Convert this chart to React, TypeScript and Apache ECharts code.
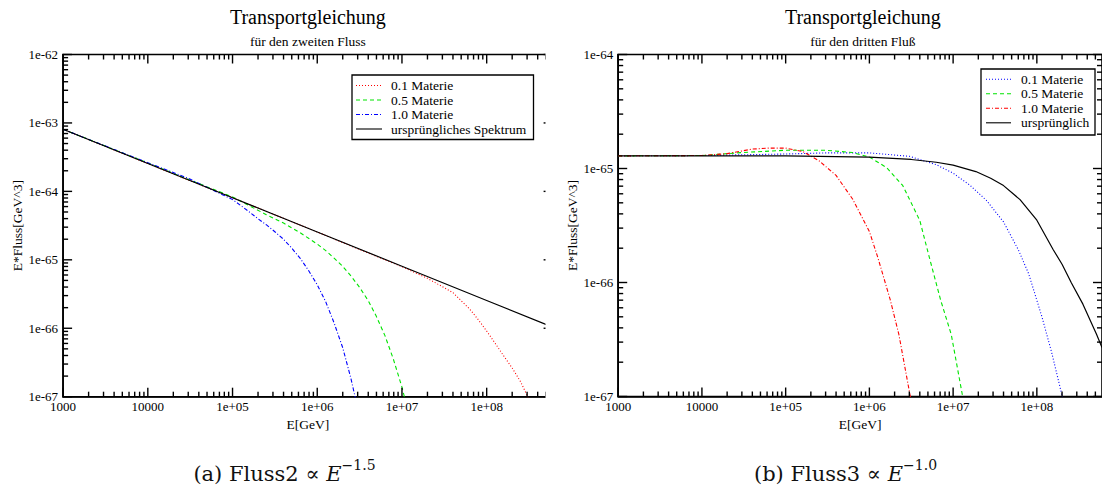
import React, { useEffect, useRef } from "react";
import * as echarts from "echarts";

// ---------- data (E in GeV, values E*Fluss in GeV^3) ----------
const xRange: [number, number] = [1e3, 6e8];
const yRangeA: [number, number] = [1e-67, 1e-62];
const yRangeB: [number, number] = [1e-67, 1e-64];

const xTickValues = [1e3, 1e4, 1e5, 1e6, 1e7, 1e8];
const xTickLabels = ["1000", "10000", "1e+05", "1e+06", "1e+07", "1e+08"];
const yTickValuesA = [1e-67, 1e-66, 1e-65, 1e-64, 1e-63, 1e-62];
const yTickLabelsA = ["1e-67", "1e-66", "1e-65", "1e-64", "1e-63", "1e-62"];
const yTickValuesB = [1e-67, 1e-66, 1e-65, 1e-64];
const yTickLabelsB = ["1e-67", "1e-66", "1e-65", "1e-64"];

const titleA = "Transportgleichung";
const subtitleA = "für den zweiten Fluss";
const titleB = "Transportgleichung";
const subtitleB = "für den dritten Fluß";
const legendNamesA = ["0.1 Materie", "0.5 Materie", "1.0 Materie", "ursprüngliches Spektrum"];
const legendNamesB = ["0.1 Materie", "0.5 Materie", "1.0 Materie", "ursprünglich"];

// Panel (a): Fluss2
const a_m01: [number, number][] = [
  [1e3, 8.07e-64], [1e4, 2.55e-64], [1e5, 8.07e-65], [1e6, 2.55e-65], [3e6, 1.45e-65],
  [1e7, 7.94e-66], [2e7, 5.37e-66], [4e7, 3.31e-66], [6.3e7, 1.91e-66], [7.9e7, 1.35e-66],
  [1e8, 9.1e-67], [1.26e8, 6.03e-67], [1.58e8, 3.98e-67], [2e8, 2.63e-67], [2.51e8, 1.66e-67],
  [3.05e8, 1.0e-67], [3.3e8, 7.9e-68],
];
const a_m05: [number, number][] = [
  [1e3, 8.07e-64], [1e4, 2.6e-64], [3e4, 1.5e-64], [1e5, 8.3e-65], [2.5e5, 4.57e-65],
  [4e5, 3.44e-65], [6.3e5, 2.48e-65], [1e6, 1.7e-65], [1.26e6, 1.36e-65], [1.58e6, 1.06e-65],
  [2e6, 8.0e-66], [2.5e6, 5.8e-66], [3.16e6, 3.96e-66], [4e6, 2.53e-66], [5e6, 1.48e-66],
  [6.3e6, 7.8e-67], [7.9e6, 3.57e-67], [1e7, 1.38e-67], [1.12e7, 7.9e-68],
];
const a_m10: [number, number][] = [
  [1e3, 8.07e-64], [1e4, 2.62e-64], [3e4, 1.55e-64], [1e5, 7.6e-65], [1.26e5, 6.17e-65],
  [1.58e5, 5.0e-65], [2e5, 3.98e-65], [2.5e5, 3.26e-65], [3.16e5, 2.57e-65], [4e5, 2.0e-65],
  [5e5, 1.48e-65], [6.3e5, 1.05e-65], [7.9e5, 6.98e-66], [1e6, 4.32e-66], [1.26e6, 2.43e-66],
  [1.58e6, 1.2e-66], [2e6, 5.18e-67], [2.5e6, 1.84e-67], [3.16e6, 5.1e-68],
];
const a_orig: [number, number][] = [
  [1e3, 8.07e-64], [1e4, 2.55e-64], [1e5, 8.07e-65], [1e6, 2.55e-65], [1e7, 8.07e-66],
  [1e8, 2.55e-66], [6e8, 1.04e-66],
];

// Panel (b): Fluss3
const b_m01: [number, number][] = [
  [1e3, 1.29e-65], [1e4, 1.3e-65], [1e5, 1.34e-65], [3e5, 1.37e-65], [1e6, 1.37e-65],
  [3e6, 1.28e-65], [6.3e6, 1.08e-65], [1e7, 9.1e-66], [1.6e7, 7.1e-66], [2.5e7, 5.25e-66],
  [4e7, 3.4e-66], [6e7, 1.94e-66], [8e7, 1.19e-66], [1.15e8, 5.0e-67], [1.5e8, 2.45e-67],
  [2e8, 1.02e-67], [2.15e8, 8.3e-68],
];
const b_m05: [number, number][] = [
  [1e3, 1.29e-65], [1e4, 1.3e-65], [3e4, 1.38e-65], [1e5, 1.445e-65], [3e5, 1.445e-65],
  [6.3e5, 1.38e-65], [1e6, 1.26e-65], [1.6e6, 1.02e-65], [2.5e6, 7.1e-66], [4e6, 3.5e-66],
  [5.2e6, 1.66e-66], [7.1e6, 7.0e-67], [9.5e6, 3.5e-67], [1.3e7, 1.0e-67], [1.38e7, 7.9e-68],
];
const b_m10: [number, number][] = [
  [1e3, 1.29e-65], [1e4, 1.3e-65], [2e4, 1.35e-65], [4e4, 1.48e-65], [6.3e4, 1.51e-65],
  [1e5, 1.51e-65], [1.6e5, 1.41e-65], [2.5e5, 1.17e-65], [4e5, 8.7e-66], [6.3e5, 5.4e-66],
  [1e6, 2.8e-66], [1.26e6, 1.66e-66], [1.77e6, 7.1e-67], [2.25e6, 3.5e-67], [3.08e6, 1.0e-67],
  [3.3e6, 7.9e-68],
];
const b_orig: [number, number][] = [
  [1e3, 1.29e-65], [1e4, 1.29e-65], [1e5, 1.29e-65], [1e6, 1.256e-65], [3.16e6, 1.2e-65],
  [6.3e6, 1.135e-65], [1e7, 1.07e-65], [1.87e7, 9.4e-66], [2.81e7, 8.22e-66], [4e7, 7.08e-66],
  [6.3e7, 5.33e-66], [1e8, 3.52e-66], [1.57e8, 1.94e-66], [2e8, 1.445e-66], [2.59e8, 9.9e-67],
  [3.55e8, 6.46e-67], [5.16e8, 3.52e-67], [6e8, 2.69e-67],
];

// ---------- styling ----------
const FONT = "Liberation Serif";
const CAPTION_FONT = "DejaVu Serif";
const BLACK = "#000000";
const RED = "#ff0000";
const GREEN = "#00e400";
const BLUE = "#0000ff";
const DOT = [1, 2];
const DASH = [4, 3];
const DASHDOT = [4, 2, 1, 2];
const MAJOR_LEN = 9;
const MINOR_LEN = 5;
const FRAME_W = 1.6;
const TICK_W = 1.4;
const TICK_COLOR = BLACK;

const L = Math.log10;

function minorTicks(lo: number, hi: number): number[] {
  const out: number[] = [];
  for (let n = Math.floor(lo) - 1; n <= Math.ceil(hi); n++) {
    for (let k = 2; k <= 9; k++) {
      const v = n + Math.log10(k);
      if (v > lo + 1e-9 && v < hi - 1e-9) out.push(v);
    }
  }
  return out;
}

function labelFor(v: number, values: number[], labels: string[]) {
  const i = values.findIndex((m) => Math.abs(L(m) - v) < 1e-6);
  return i >= 0 ? labels[i] : "";
}

function mainAxis(dim: "x" | "y", gridIndex: number, range: [number, number], majors: number[], labels: string[], name: string) {
  const majorLog = majors.map(L);
  return {
    type: "value",
    gridIndex,
    min: L(range[0]),
    max: L(range[1]),
    position: dim === "x" ? "bottom" : "left",
    splitLine: { show: false },
    silent: true,
    name,
    nameLocation: "middle",
    nameGap: dim === "x" ? 18.5 : 39,
    nameTextStyle: { fontFamily: FONT, fontSize: 13.5, color: BLACK },
    axisLine: { show: true, onZero: false, lineStyle: { color: BLACK, width: FRAME_W } },
    axisTick: { show: false },
    axisLabel: {
      show: true,
      customValues: majorLog,
      margin: dim === "x" ? 3 : 5,
      formatter: (v: number) => labelFor(v, majors, labels),
      fontFamily: FONT,
      fontSize: 13,
      color: BLACK,
    },
  };
}

// tick positions in data space: [x, y, dxPx, dyPx]
function tickItems(xr: [number, number], yr: [number, number], xMajors: number[], yMajors: number[]) {
  const xl = L(xr[0]), xh = L(xr[1]), yl = L(yr[0]), yh = L(yr[1]);
  const items: number[][] = [];
  const xs = [...xMajors.map((v) => [L(v), MAJOR_LEN]), ...minorTicks(xl, xh).map((v) => [v, MINOR_LEN])];
  const ys = [...yMajors.map((v) => [L(v), MAJOR_LEN]), ...minorTicks(yl, yh).map((v) => [v, MINOR_LEN])];
  xs.forEach(([v, len]) => {
    items.push([v, yl, 0, -len]);
    items.push([v, yh, 0, len]);
  });
  ys.forEach(([v, len]) => {
    items.push([xl, v, len, 0]);
    items.push([xh, v, -len, 0]);
  });
  return items;
}

function series(data: [number, number][], axisIndex: number, color: string, type: any, width = 1.1, z = 2) {
  return {
    type: "line",
    xAxisIndex: axisIndex,
    yAxisIndex: axisIndex,
    data: data.map(([e, f]) => [L(e), L(f)]),
    symbol: "none",
    showSymbol: false,
    clip: true,
    silent: true,
    z,
    lineStyle: { color, width, type },
  };
}

function legendGraphics(
  box: { x: number; y: number; w: number; h: number },
  lineX: [number, number],
  textX: number,
  rowsY: number[],
  names: string[],
  styles: { color: string; dash: number[] | null }[]
) {
  const els: any[] = [
    {
      type: "rect",
      z: 60,
      shape: { x: box.x, y: box.y, width: box.w, height: box.h },
      style: { fill: "#ffffff", stroke: BLACK, lineWidth: 1.3 },
    },
  ];
  names.forEach((n, i) => {
    els.push({
      type: "line",
      z: 61,
      shape: { x1: lineX[0], y1: rowsY[i], x2: lineX[1], y2: rowsY[i] },
      style: { stroke: styles[i].color, lineWidth: 1.1, lineDash: styles[i].dash || undefined },
    });
    els.push({
      type: "text",
      z: 61,
      x: textX,
      y: rowsY[i],
      style: { text: n, fontFamily: FONT, fontSize: 13.5, fill: BLACK, align: "left", verticalAlign: "middle" },
    });
  });
  return els;
}

function textEl(text: string, x: number, y: number, size: number) {
  return {
    type: "text",
    z: 50,
    x,
    y,
    style: { text, fontFamily: FONT, fontSize: size, fill: BLACK, align: "center", verticalAlign: "middle" },
  };
}

function captionEl(prefix: string, exp: string, x: number, y: number) {
  return {
    type: "text",
    z: 50,
    x,
    y,
    style: {
      text: `{n|${prefix}}{i|E}{s|${exp}}`,
      align: "center",
      verticalAlign: "middle",
      rich: {
        n: { fontFamily: CAPTION_FONT, fontSize: 21, lineHeight: 26, verticalAlign: "bottom", fill: "#111" },
        i: { fontFamily: CAPTION_FONT, fontSize: 21, fontStyle: "italic", lineHeight: 26, verticalAlign: "bottom", fill: "#111" },
        s: { fontFamily: CAPTION_FONT, fontSize: 14, lineHeight: 16, verticalAlign: "top", fill: "#111" },
      },
    },
  };
}

export default function App() {
  const ref = useRef<HTMLDivElement>(null);
  useEffect(() => {
    if (!ref.current) return;
    const chart = echarts.init(ref.current, undefined, { renderer: "svg" });
    const gridStyle = { show: true, borderColor: BLACK, borderWidth: FRAME_W, backgroundColor: "transparent", containLabel: false };
    const gridA = { ...gridStyle, left: 63.1, top: 54.5, width: 489.5, height: 342.2 };
    const gridB = { ...gridStyle, left: 618.2, top: 54.5, width: 489.5, height: 342.0 };
    const option: any = {
      animation: false,
      backgroundColor: "#ffffff",
      grid: [gridA, gridB],
      xAxis: [
        mainAxis("x", 0, xRange, xTickValues, xTickLabels, "E[GeV]"),
        mainAxis("x", 1, xRange, xTickValues, xTickLabels, "E[GeV]"),
      ],
      yAxis: [
        mainAxis("y", 0, yRangeA, yTickValuesA, yTickLabelsA, "E*Fluss[GeV^3]"),
        mainAxis("y", 1, yRangeB, yTickValuesB, yTickLabelsB, "E*Fluss[GeV^3]"),
      ],
      series: [
        series(a_m01, 0, RED, DOT),
        series(a_m05, 0, GREEN, DASH),
        series(a_m10, 0, BLUE, DASHDOT),
        series(a_orig, 0, BLACK, "solid", 1.2, 3),
        series(b_m01, 1, BLUE, DOT),
        series(b_m05, 1, GREEN, DASH),
        series(b_m10, 1, RED, DASHDOT),
        series(b_orig, 1, BLACK, "solid", 1.2, 3),
      ],
    };
    chart.setOption(option);

    // tick marks, positioned through the axes' own data-to-pixel conversion
    const tickEls: any[] = [];
    const addTicks = (gridIndex: number, items: number[][]) => {
      items.forEach(([x, y, dx, dy]) => {
        const p = chart.convertToPixel({ gridIndex }, [x, y]) as number[];
        if (!p) return;
        tickEls.push({
          type: "line",
          z: 90,
          shape: { x1: p[0], y1: p[1], x2: p[0] + dx, y2: p[1] + dy },
          style: { stroke: TICK_COLOR, lineWidth: TICK_W },
        });
      });
    };
    addTicks(0, tickItems(xRange, yRangeA, xTickValues, yTickValuesA));
    addTicks(1, tickItems(xRange, yRangeB, xTickValues, yTickValuesB));

    chart.setOption({
      graphic: {
        elements: [
          ...tickEls,
          {
            type: "rect",
            z: 100,
            shape: { x: 545.5, y: 40, width: 10, height: 372 },
            style: { fill: "#ffffff" },
          },
          textEl(titleA, 307.9, 16.5, 20),
          textEl(subtitleA, 307.9, 41.5, 13.5),
          textEl(titleB, 862.9, 16.5, 20),
          textEl(subtitleB, 862.9, 41.5, 13.5),
          ...legendGraphics(
            { x: 352, y: 75, w: 181.5, h: 64.5 },
            [356, 382],
            391,
            [85.5, 100, 114.5, 129],
            legendNamesA,
            [
              { color: RED, dash: DOT },
              { color: GREEN, dash: DASH },
              { color: BLUE, dash: DASHDOT },
              { color: BLACK, dash: null },
            ]
          ),
          ...legendGraphics(
            { x: 981, y: 69, w: 114, h: 66 },
            [986, 1011],
            1021,
            [79.3, 93.8, 108.3, 122.8],
            legendNamesB,
            [
              { color: BLUE, dash: DOT },
              { color: GREEN, dash: DASH },
              { color: RED, dash: DASHDOT },
              { color: BLACK, dash: null },
            ]
          ),
          captionEl("(a) Fluss2 ∝ ", "−1.5", 284.5, 471),
          captionEl("(b) Fluss3 ∝ ", "−1.0", 845.5, 471),
        ],
      },
    });
    return () => chart.dispose();
  }, []);
  return (
    <div
      ref={ref}
      style={{ position: "absolute", left: 0, top: 0, width: 1102, height: 501, background: "#fff" }}
    />
  );
}
